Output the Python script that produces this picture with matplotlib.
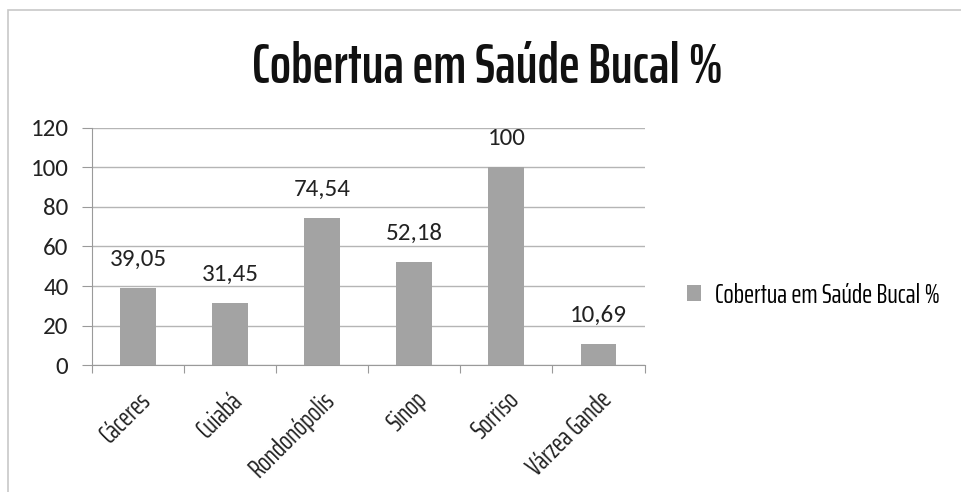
import matplotlib.pyplot as plt
from matplotlib.patches import Rectangle
from matplotlib.ticker import MultipleLocator

cidades = ["Cáceres", "Cuiabá", "Rondonópolis", "Sinop", "Sorriso", "Várzea Gande"]
cobertura = [39.05, 31.45, 74.54, 52.18, 100, 10.69]
titulo = "Cobertua em Saúde Bucal %"

agency = ["Saira ExtraCondensed", "Saira Condensed", "DejaVu Sans"]
calibri = ["Carlito", "DejaVu Sans"]
cor_barra = "#a3a3a3"

fig = plt.figure(figsize=(9.61, 4.92), dpi=100)
ax = fig.add_axes([0.0957, 0.258, 0.575, 0.482])

x = range(len(cidades))
barras = ax.bar(x, cobertura, width=0.39, color=cor_barra, zorder=3, label=titulo)

# rótulos de dados com vírgula decimal
for i, v in enumerate(cobertura):
    txt = ("%g" % v).replace(".", ",")
    ax.annotate(txt, (i, v), xytext=(0, 13), textcoords="offset points",
                ha="center", va="bottom", fontsize=18, family=calibri,
                color="#222222")

ax.set_xlim(-0.5, len(cidades) - 0.5)
ax.set_ylim(0, 120)
ax.yaxis.set_major_locator(MultipleLocator(20))
ax.grid(axis="y", color="#b5b5b5", linewidth=1.0, zorder=0)
for s in ["top", "right"]:
    ax.spines[s].set_visible(False)
ax.spines["left"].set_color("#9a9a9a")
ax.spines["bottom"].set_color("#9a9a9a")
ax.set_xticks([i - 0.5 for i in range(len(cidades) + 1)])
ax.set_xticklabels([])
ax.set_xticks(list(x), minor=True)
ax.set_xticklabels(cidades, minor=True, rotation=45, ha="right",
                   rotation_mode="anchor", family=agency, fontsize=19,
                   color="#222222")
ax.tick_params(axis="x", which="minor", length=0, pad=16)
ax.tick_params(axis="x", which="major", length=6, color="#9a9a9a")
ax.tick_params(axis="y", length=7, color="#9a9a9a", labelsize=18, pad=10)
for lb in ax.get_yticklabels():
    lb.set_family(calibri)
    lb.set_color("#222222")

fig.text(0.507, 0.862, titulo, ha="center", va="center", fontsize=40,
         family=agency, weight="semibold", color="#111111")

fig.legend(handles=[barras], labels=[titulo], loc="center left",
           bbox_to_anchor=(0.69, 0.40), frameon=False, handlelength=0.5,
           handleheight=0.5, handletextpad=0.5,
           prop={"family": agency, "size": 19.5})

fig.patches.append(Rectangle((0.008, -0.1), 1.1, 1.08, transform=fig.transFigure,
                             fill=False, edgecolor="#c8c8c8", linewidth=1.2))

fig.savefig("out.png", dpi=100)
